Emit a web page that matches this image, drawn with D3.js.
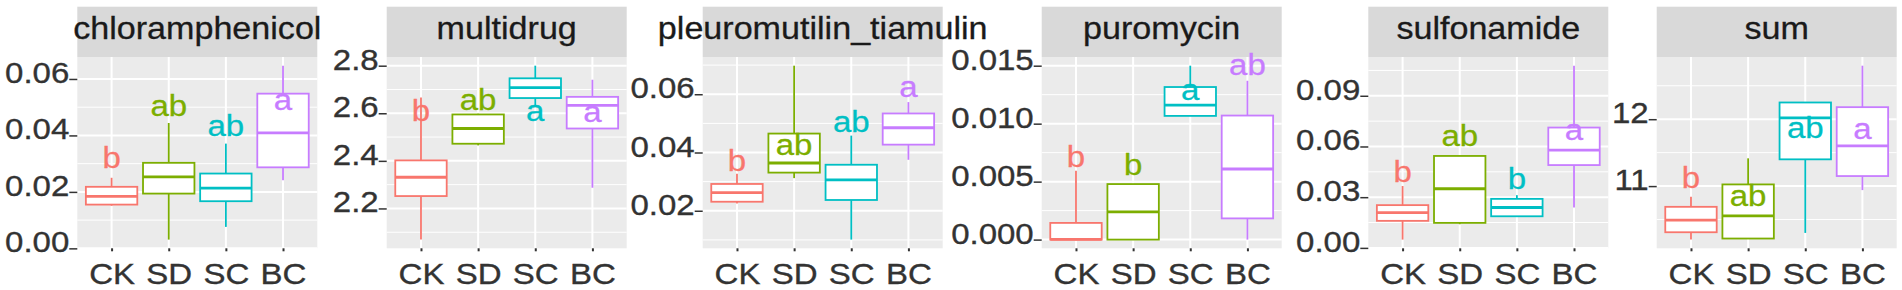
<!DOCTYPE html>
<html><head><meta charset="utf-8">
<script src="https://cdn.jsdelivr.net/npm/d3@7"></script>
<style>html,body{margin:0;padding:0;background:#fff;} svg{display:block;}</style>
</head><body>
<svg id="c" width="1902" height="290"></svg>
<script>
// ---------- DATA ----------
const groups = ["CK", "SD", "SC", "BC"];
const groupColors = ["#F8766D", "#7CAE00", "#00BFC4", "#C77CFF"];
const panelNames = ["chloramphenicol", "multidrug", "pleuromutilin_tiamulin", "puromycin", "sulfonamide", "sum"];

// [lower whisker, Q1, median, Q3, upper whisker] for CK, SD, SC, BC
const chloramphenicolStats = [
  [0.0151, 0.0155, 0.0184, 0.0218, 0.0250],
  [0.0031, 0.0194, 0.0253, 0.0303, 0.0444],
  [0.0076, 0.0167, 0.0213, 0.0265, 0.0371],
  [0.0241, 0.0287, 0.0409, 0.0548, 0.0647]
];
const multidrugStats = [
  [2.069, 2.252, 2.331, 2.402, 2.666],
  [2.465, 2.472, 2.536, 2.595, 2.598],
  [2.628, 2.664, 2.708, 2.747, 2.800],
  [2.287, 2.536, 2.633, 2.669, 2.741]
];
const pleuromutilinStats = [
  [0.0225, 0.0231, 0.0262, 0.0292, 0.0327],
  [0.0312, 0.0331, 0.0364, 0.0465, 0.0698],
  [0.0101, 0.0237, 0.0306, 0.0358, 0.0458],
  [0.0375, 0.0427, 0.0485, 0.0534, 0.0573]
];
const puromycinStats = [
  [0.0000, 0.0000, 0.00002, 0.00144, 0.00594],
  [0.0000, 0.0000, 0.0024, 0.00479, 0.00479],
  [0.0107, 0.01067, 0.0116, 0.01316, 0.0150],
  [0.0000, 0.00183, 0.00609, 0.0107, 0.0137]
];
const sulfonamideStats = [
  [0.0049, 0.0160, 0.0209, 0.0253, 0.0366],
  [0.0140, 0.0148, 0.0350, 0.0544, 0.0544],
  [0.0187, 0.0187, 0.0239, 0.0290, 0.0312],
  [0.0239, 0.0490, 0.0579, 0.0712, 0.1078]
];
const sumStats = [
  [10.20, 10.31, 10.49, 10.69, 10.84],
  [10.21, 10.216, 10.555, 11.025, 11.415],
  [10.30, 11.40, 12.02, 12.25, 12.25],
  [10.94, 11.15, 11.60, 12.18, 12.80]
];

// significance letters and the value at which each letter sits
const chloramphenicolLetters = ["b", "ab", "ab", "a"];
const multidrugLetters = ["b", "ab", "a", "a"];
const pleuromutilinLetters = ["b", "ab", "ab", "a"];
const puromycinLetters = ["b", "b", "a", "ab"];
const sulfonamideLetters = ["b", "ab", "b", "a"];
const sumLetters = ["b", "ab", "ab", "a"];

const chloramphenicolLetterY = [0.0285, 0.0468, 0.0397, 0.0491];
const multidrugLetterY = [2.567, 2.612, 2.567, 2.563];
const pleuromutilinLetterY = [0.0335, 0.0392, 0.0470, 0.0592];
const puromycinLetterY = [0.00629, 0.00557, 0.0120, 0.0142];
const sulfonamideLetterY = [0.0391, 0.0603, 0.0346, 0.0639];
const sumLetterY = [10.97, 10.70, 11.715, 11.70];

// y tick labels
const chloramphenicolTicks = ["0.00", "0.02", "0.04", "0.06"];
const multidrugTicks = ["2.2", "2.4", "2.6", "2.8"];
const pleuromutilinTicks = ["0.02", "0.04", "0.06"];
const puromycinTicks = ["0.000", "0.005", "0.010", "0.015"];
const sulfonamideTicks = ["0.00", "0.03", "0.06", "0.09"];
const sumTicks = ["11", "12"];

const statsList = [chloramphenicolStats, multidrugStats, pleuromutilinStats, puromycinStats, sulfonamideStats, sumStats];
const lettersList = [chloramphenicolLetters, multidrugLetters, pleuromutilinLetters, puromycinLetters, sulfonamideLetters, sumLetters];
const letterYList = [chloramphenicolLetterY, multidrugLetterY, pleuromutilinLetterY, puromycinLetterY, sulfonamideLetterY, sumLetterY];
const ticksList = [chloramphenicolTicks, multidrugTicks, pleuromutilinTicks, puromycinTicks, sulfonamideTicks, sumTicks];

// ---------- LAYOUT ----------
const panelLeft = [77.3, 386.7, 702.7, 1041.7, 1368.3, 1656.7];
const panelW = 240;
const panelTop = 57, panelBottom = 248.3, stripTop = 6.7;
const SX = 1.1; // horizontal text stretch of the reference
const FONT = "'Liberation Sans', Arial, Helvetica, sans-serif";

const svg = d3.select("#c");

panelNames.forEach((name, pi) => {
  const L = panelLeft[pi];
  const stats = statsList[pi];
  const x = d3.scalePoint().domain(groups).range([L, L + panelW]).padding(0.6);
  const all = stats.flat();
  const mn = d3.min(all), mx = d3.max(all), ex = (mx - mn) * 0.05;
  const y = d3.scaleLinear().domain([mn - ex, mx + ex]).range([panelBottom, panelTop]);
  const tickVals = ticksList[pi].map(Number);
  const step = tickVals[1] - tickVals[0];
  const minor = [];
  for (let v = tickVals[0] - step / 2; v <= mx + ex; v += step) {
    if (v >= mn - ex) minor.push(v);
  }

  const g = svg.append("g");
  g.append("rect").attr("x", L).attr("y", panelTop).attr("width", panelW)
    .attr("height", panelBottom - panelTop).attr("fill", "#EBEBEB");
  g.selectAll(".mn").data(minor).join("line")
    .attr("x1", L).attr("x2", L + panelW)
    .attr("y1", d => y(d)).attr("y2", d => y(d))
    .attr("stroke", "#FFFFFF").attr("stroke-width", 1);
  g.selectAll(".mj").data(tickVals).join("line")
    .attr("x1", L).attr("x2", L + panelW)
    .attr("y1", d => y(d)).attr("y2", d => y(d))
    .attr("stroke", "#FFFFFF").attr("stroke-width", 2);
  g.selectAll(".mx").data(groups).join("line")
    .attr("x1", d => x(d)).attr("x2", d => x(d))
    .attr("y1", panelTop).attr("y2", panelBottom)
    .attr("stroke", "#FFFFFF").attr("stroke-width", 2);

  g.append("rect").attr("x", L).attr("y", stripTop).attr("width", panelW)
    .attr("height", panelTop - stripTop).attr("fill", "#D9D9D9");

  const bw = x.step() * 0.9;
  stats.forEach((s, gi) => {
    const cx = x(groups[gi]);
    const col = groupColors[gi];
    const bg = g.append("g");
    bg.append("line").attr("x1", cx).attr("x2", cx).attr("y1", y(s[3])).attr("y2", y(s[4]))
      .attr("stroke", col).attr("stroke-width", 1.8);
    bg.append("line").attr("x1", cx).attr("x2", cx).attr("y1", y(s[1])).attr("y2", y(s[0]))
      .attr("stroke", col).attr("stroke-width", 1.8);
    bg.append("rect").attr("x", cx - bw / 2).attr("width", bw)
      .attr("y", y(s[3])).attr("height", Math.max(0.5, y(s[1]) - y(s[3])))
      .attr("fill", "#FFFFFF").attr("stroke", col).attr("stroke-width", 1.8);
    bg.append("line").attr("x1", cx - bw / 2).attr("x2", cx + bw / 2)
      .attr("y1", y(s[2])).attr("y2", y(s[2]))
      .attr("stroke", col).attr("stroke-width", 2.8);
  });

  lettersList[pi].forEach((t, gi) => {
    g.append("text")
      .attr("transform", `translate(${x(groups[gi])},${y(letterYList[pi][gi])}) scale(${SX},1)`)
      .attr("text-anchor", "middle").attr("font-family", FONT).attr("font-size", 30)
      .attr("fill", groupColors[gi]).attr("stroke", groupColors[gi]).attr("stroke-width", 0.3)
      .text(t);
  });

  g.append("text")
    .attr("transform", `translate(${L + panelW / 2},38.5) scale(${SX},1)`)
    .attr("text-anchor", "middle").attr("font-family", FONT).attr("font-size", 31)
    .attr("fill", "#1A1A1A").attr("stroke", "#1A1A1A").attr("stroke-width", 0.3).text(name);

  const ya = g.append("g").attr("transform", `translate(${L},0)`)
    .call(d3.axisLeft(y).tickValues(tickVals).tickSize(8).tickPadding(0)
      .tickFormat((d, i) => ticksList[pi][i]));
  ya.select(".domain").remove();
  ya.selectAll(".tick line").attr("stroke", "#333333").attr("stroke-width", 1.5);
  ya.selectAll(".tick text")
    .attr("x", null).attr("dy", null).attr("y", null)
    .attr("transform", `translate(-8,3.5) scale(${SX},1)`)
    .attr("font-family", FONT).attr("font-size", 30).attr("fill", "#333333")
    .attr("stroke", "#333333").attr("stroke-width", 0.35);

  const xa = g.append("g").attr("transform", `translate(0,${panelBottom})`)
    .call(d3.axisBottom(x).tickSize(3).tickPadding(0));
  xa.select(".domain").remove();
  xa.selectAll(".tick line").attr("stroke", "#333333").attr("stroke-width", 2);
  xa.selectAll(".tick text")
    .attr("y", null).attr("dy", null)
    .attr("transform", `translate(0,35.5) scale(${SX},1)`)
    .attr("font-family", FONT).attr("font-size", 30).attr("fill", "#333333")
    .attr("stroke", "#333333").attr("stroke-width", 0.35);
});
</script>
</body></html>
